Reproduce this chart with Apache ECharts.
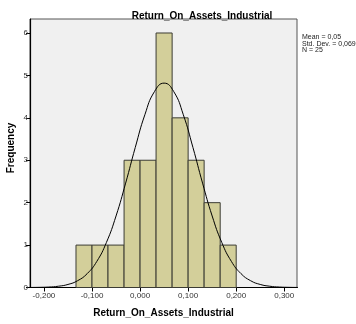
<!DOCTYPE html>
<html><head><meta charset="utf-8">
<script src="https://cdn.jsdelivr.net/npm/echarts@6/dist/echarts.min.js"></script>
<style>html,body{margin:0;padding:0;background:#fff}#c{width:356px;height:324px}</style>
</head><body><div id="c"></div>
<script>
// Histogram bins (edges) and frequencies
var binEdges = [-0.1333, -0.1, -0.0667, -0.0333, 0, 0.0333, 0.0667, 0.1, 0.1333, 0.1667, 0.2];
var counts = [1, 1, 1, 3, 3, 6, 4, 3, 2, 1];
// Normal curve read along x
var curveX = [-0.23,-0.21,-0.19,-0.17,-0.15,-0.13,-0.11,-0.09,-0.07,-0.05,-0.03,-0.01,0.01,0.03,0.05,0.07,0.09,0.11,0.13,0.15,0.17,0.19,0.21,0.23,0.25,0.27,0.29,0.31,0.33];
var curveY = [0.0013,0.004,0.011,0.030,0.072,0.160,0.327,0.615,1.062,1.686,2.461,3.301,4.073,4.620,4.818,4.620,4.073,3.301,2.461,1.686,1.062,0.615,0.327,0.160,0.072,0.030,0.011,0.004,0.0013];
var xTicks = [-0.2, -0.1, 0, 0.1, 0.2, 0.3];
var xTickLabels = ['-0,200', '-0,100', '0,000', '0,100', '0,200', '0,300'];
var yTicks = [0, 1, 2, 3, 4, 5, 6];
var titleText = 'Return_On_Assets_Industrial';
var yName = 'Frequency';
var statsLines = ['Mean = 0,05', 'Std. Dev. = 0,069', 'N = 25'];

var histData = counts.map(function (c, i) { return [binEdges[i], binEdges[i + 1], c]; });
var curveData = curveX.map(function (x, i) { return [x, curveY[i]]; });

var chart = echarts.init(document.getElementById('c'), null, {renderer: 'canvas'});
var F = 'Liberation Sans, Arial, sans-serif';
chart.setOption({
  animation: false,
  title: {text: titleText, left: 197, textAlign: 'center', top: 6,
    textStyle: {fontFamily: F, fontSize: 10, fontWeight: 'bold', color: '#000'}},
  grid: {left: 30, top: 19, right: 59, bottom: 36.5, outerBoundsMode: 'none', containLabel: false,
    show: true, backgroundColor: '#f0f0f0', borderColor: '#555', borderWidth: 1},
  xAxis: {type: 'value', min: -0.229, max: 0.3265,
    name: titleText, nameLocation: 'middle', nameGap: 21,
    nameTextStyle: {fontFamily: F, fontSize: 10, fontWeight: 'bold', color: '#000'},
    axisLine: {onZero: false, lineStyle: {color: '#000', width: 1.2}},
    axisTick: {show: true, length: 4, customValues: xTicks, lineStyle: {color: '#000'}},
    axisLabel: {customValues: xTicks, fontFamily: F, fontSize: 8, color: '#333', margin: 4,
      formatter: function (v) { var i = xTicks.findIndex(function (t) { return Math.abs(t - v) < 1e-9; }); return i >= 0 ? xTickLabels[i] : ''; }},
    splitLine: {show: false}},
  yAxis: {type: 'value', min: 0, max: 6.33,
    axisLine: {show: true, onZero: false, lineStyle: {color: '#000', width: 1.2}},
    axisTick: {show: true, length: 4, customValues: yTicks, lineStyle: {color: '#000'}},
    axisLabel: {customValues: yTicks, fontFamily: F, fontSize: 8, color: '#333', margin: 2},
    splitLine: {show: false}},
  graphic: [
    {type: 'text', left: 302, top: 34,
      style: {text: statsLines.join('\n'), fontFamily: F, fontSize: 7, lineHeight: 6.5, fill: '#222'}},
    {type: 'text', x: 11, y: 148, rotation: Math.PI / 2,
      style: {text: yName, fontFamily: F, fontSize: 10, fontWeight: 'bold', fill: '#000', align: 'center', verticalAlign: 'middle'}}
  ],
  series: [{
    type: 'custom',
    renderItem: function (params, api) {
      var p0 = api.coord([api.value(0), api.value(2)]);
      var p1 = api.coord([api.value(1), 0]);
      return {type: 'rect', shape: {x: p0[0], y: p0[1], width: p1[0] - p0[0], height: p1[1] - p0[1]},
        style: {fill: '#d3cf9a', stroke: '#3c3c34', lineWidth: 1}};
    },
    encode: {x: [0, 1], y: 2},
    data: histData, z: 2
  }, {
    type: 'line', data: curveData, smooth: true, showSymbol: false, symbol: 'none',
    lineStyle: {color: '#000', width: 1}, z: 3
  }]
});
</script></body></html>
